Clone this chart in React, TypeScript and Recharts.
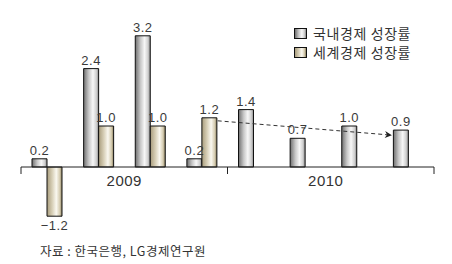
import React from "react";
import { Bar, BarChart, LabelList, ReferenceLine, XAxis, YAxis } from "recharts";

const quarters = ["2009 1Q", "2009 2Q", "2009 3Q", "2009 4Q", "2010 1Q", "2010 2Q", "2010 3Q", "2010 4Q"];
const domesticGrowth = [0.2, 2.4, 3.2, 0.2, 1.4, 0.7, 1.0, 0.9];
const worldGrowth: (number | null)[] = [-1.2, 1.0, 1.0, 1.2, null, null, null, null];
const years = ["2009", "2010"];
const seriesNames = ["국내경제 성장률", "세계경제 성장률"];
const sourceNote = "자료 : 한국은행, LG경제연구원";

const data = quarters.map((q, i) => ({
  q,
  domestic: domesticGrowth[i],
  world: worldGrowth[i],
}));

const FONT = "'Liberation Sans', Arial, sans-serif";
const KFONT = "'Noto Sans CJK KR', 'Noto Sans', sans-serif";
const BAR = 15;

function ValueLabel(props: any) {
  const { x, y, width, height, value } = props;
  if (value === null || value === undefined) return null;
  const top = Math.min(y, y + height);
  const bottom = Math.max(y, y + height);
  const cx = x + width / 2;
  const neg = value < 0;
  const text = neg ? `\u2212${Math.abs(value).toFixed(1)}` : value.toFixed(1);
  return (
    <text
      x={cx}
      y={neg ? bottom + 14 : top - 4}
      textAnchor="middle"
      fontSize={13}
      fontFamily={FONT}
      fill="#3a3a3a"
      letterSpacing={0.5}
    >
      {text}
    </text>
  );
}

// baseline with tick marks and the year labels under it
function YearAxis(props: any) {
  const { x1, x2, y1 } = props;
  const mid = (x1 + x2) / 2;
  return (
    <g>
      <line x1={x1} x2={x2} y1={y1} y2={y1} stroke="#222" strokeWidth={1} />
      {[x1, mid, x2].map((tx, i) => (
        <line key={i} x1={tx} x2={tx} y1={y1} y2={y1 + 7} stroke="#222" strokeWidth={1} />
      ))}
      {years.map((yr, i) => (
        <text
          key={yr}
          x={i === 0 ? (x1 + mid) / 2 : (mid + x2) / 2 - 5}
          y={y1 + 19}
          textAnchor="middle"
          fontSize={15}
          fontFamily={FONT}
          fill="#333"
          letterSpacing={0.5}
        >
          {yr}
        </text>
      ))}
    </g>
  );
}

function Arrow(props: any) {
  const { x1, y1, x2, y2 } = props;
  return (
    <line
      x1={x1 + BAR + 1}
      y1={y1 + 3}
      x2={x2 - BAR - 2}
      y2={y2 + 5}
      stroke="#333"
      strokeWidth={1}
      strokeDasharray="4 3"
      markerEnd="url(#arrowHead)"
    />
  );
}

const grayBg = "linear-gradient(to right, #6f6f6f 0%, #c8c8c8 35%, #f7f7f7 62%, #d0d0d0 85%, #8a8a8a 100%)";
const beigeBg = "linear-gradient(to right, #a89c7c 0%, #d8d0b8 35%, #faf8f0 62%, #d6cdb2 85%, #8c805e 100%)";

export default function App() {
  return (
    <div style={{ position: "absolute", left: 0, top: 0, width: 452, height: 264, background: "#fff", overflow: "hidden" }}>
      <svg width={0} height={0} style={{ position: "absolute" }}>
        <defs>
          <linearGradient id="gGray" x1="0" y1="0" x2="1" y2="0">
            <stop offset="0%" stopColor="#6f6f6f" />
            <stop offset="35%" stopColor="#c8c8c8" />
            <stop offset="62%" stopColor="#f7f7f7" />
            <stop offset="85%" stopColor="#d0d0d0" />
            <stop offset="100%" stopColor="#8a8a8a" />
          </linearGradient>
          <linearGradient id="gBeige" x1="0" y1="0" x2="1" y2="0">
            <stop offset="0%" stopColor="#a89c7c" />
            <stop offset="35%" stopColor="#d8d0b8" />
            <stop offset="62%" stopColor="#faf8f0" />
            <stop offset="85%" stopColor="#d6cdb2" />
            <stop offset="100%" stopColor="#8c805e" />
          </linearGradient>
          <marker id="arrowHead" viewBox="0 0 10 10" refX="9" refY="5" markerWidth="9" markerHeight="7" orient="auto" markerUnits="userSpaceOnUse">
            <path d="M0,0 L10,5 L0,10 L3,5 z" fill="#222" />
          </marker>
        </defs>
      </svg>
      <BarChart
        width={452}
        height={264}
        data={data}
        margin={{ top: 3, right: 18, bottom: 15, left: 21 }}
        barGap={0}
      >
        <XAxis dataKey="q" hide />
        <YAxis hide domain={[-2, 4]} />
        <ReferenceLine y={0} shape={YearAxis} />
        <Bar dataKey="domestic" barSize={BAR} fill="url(#gGray)" stroke="#111" strokeWidth={1} isAnimationActive={false}>
          <LabelList dataKey="domestic" content={ValueLabel} />
        </Bar>
        <Bar dataKey="world" barSize={BAR} fill="url(#gBeige)" stroke="#111" strokeWidth={1} isAnimationActive={false}>
          <LabelList dataKey="world" content={ValueLabel} />
        </Bar>
        <ReferenceLine
          segment={[
            { x: quarters[3], y: worldGrowth[3] as number },
            { x: quarters[7], y: domesticGrowth[7] },
          ]}
          shape={Arrow}
        />
      </BarChart>
      <div style={{ position: "absolute", left: 294, top: 24, fontFamily: KFONT, fontSize: 14, color: "#333", lineHeight: "19px" }}>
        {seriesNames.map((name, i) => (
          <div key={name} style={{ display: "flex", alignItems: "center", whiteSpace: "nowrap" }}>
            <span
              style={{
                display: "inline-block",
                width: 11,
                height: 9,
                border: "1px solid #111",
                background: i === 0 ? grayBg : beigeBg,
                marginRight: 6,
              }}
            />
            <span style={{ letterSpacing: 0.6 }}>{name}</span>
          </div>
        ))}
      </div>
      <div style={{ position: "absolute", left: 40, top: 241, fontFamily: KFONT, fontSize: 12.5, letterSpacing: 0.5, color: "#333", whiteSpace: "nowrap" }}>
        {sourceNote}
      </div>
    </div>
  );
}
